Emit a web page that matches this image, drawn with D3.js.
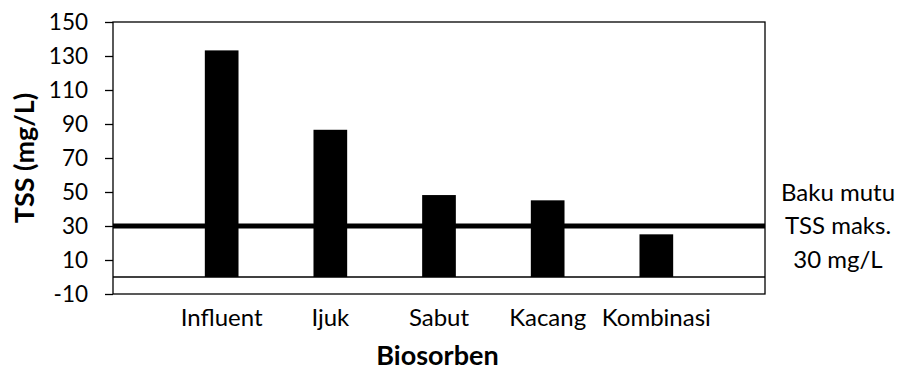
<!DOCTYPE html>
<html>
<head>
<meta charset="utf-8">
<script src="https://cdn.jsdelivr.net/npm/d3@7"></script>
<style>
  body { margin: 0; background: #fff; }
  text { font-family: Lato, "Open Sans", sans-serif; fill: #000; }
  .tick text { font-size: 22.5px; }
  .cat-label { font-size: 24px; }
  .axis-title { font-size: 27px; font-weight: bold; }
  .note { font-size: 24px; }
</style>
</head>
<body>
<svg width="899" height="368"></svg>
<script>
// data
const categories = ['Influent', 'Ijuk', 'Sabut', 'Kacang', 'Kombinasi'];
const tssValues = [133.3, 86.6, 48.2, 45.1, 25.1];
const yTicks = [-10, 10, 30, 50, 70, 90, 110, 130, 150];
const bakuMutu = 30;
const noteLines = ['Baku mutu', 'TSS maks.', '30 mg/L'];

const svg = d3.select('svg');
const width = +svg.attr('width');
const height = +svg.attr('height');
const margin = {top: 22, right: 134, bottom: 74, left: 113};
const innerWidth = width - margin.left - margin.right;
const innerHeight = height - margin.top - margin.bottom;

const x = d3.scalePoint()
    .domain(categories)
    .range([0, innerWidth])
    .padding(1);

const y = d3.scaleLinear()
    .domain([-10, 150])
    .range([innerHeight, 0]);

const barWidth = x.step() * 0.31;

const g = svg.append('g')
    .attr('transform', `translate(${margin.left},${margin.top})`);

// bars
g.selectAll('rect.bar').data(tssValues)
  .enter().append('rect')
    .attr('class', 'bar')
    .attr('x', (d, i) => x(categories[i]) - barWidth / 2)
    .attr('y', d => y(d))
    .attr('width', barWidth)
    .attr('height', d => y(0) - y(d))
    .attr('fill', '#000');

// zero line
g.append('line')
    .attr('x1', 0).attr('x2', innerWidth)
    .attr('y1', y(0)).attr('y2', y(0))
    .attr('stroke', '#000')
    .attr('stroke-width', 1.5);

// baku mutu line
g.append('line')
    .attr('x1', 0).attr('x2', innerWidth)
    .attr('y1', y(bakuMutu)).attr('y2', y(bakuMutu))
    .attr('stroke', '#000')
    .attr('stroke-width', 5);

// frame
g.append('rect')
    .attr('x', 0).attr('y', 0)
    .attr('width', innerWidth).attr('height', innerHeight)
    .attr('fill', 'none')
    .attr('stroke', '#000')
    .attr('stroke-width', 1.3);

// y axis (plain hyphen for negatives, like the original)
const yAxis = d3.axisLeft(y)
    .tickValues(yTicks)
    .tickFormat(d => String(d))
    .tickSize(8)
    .tickPadding(17);

const yAxisG = g.append('g').call(yAxis);
yAxisG.select('.domain').remove();
yAxisG.selectAll('.tick line').attr('stroke', '#000').attr('stroke-width', 1.3);
yAxisG.selectAll('.tick text').attr('font-size', null).attr('font-family', null);
yAxisG.attr('font-size', null).attr('font-family', null);

// category labels
g.selectAll('text.cat-label').data(categories)
  .enter().append('text')
    .attr('class', 'cat-label')
    .attr('x', d => x(d))
    .attr('y', innerHeight + 32)
    .attr('text-anchor', 'middle')
    .text(d => d);

// axis titles
g.append('text')
    .attr('class', 'axis-title')
    .attr('x', (377 + 498) / 2 - margin.left)
    .attr('y', innerHeight + 71)
    .attr('text-anchor', 'middle')
    .text('Biosorben');

g.append('text')
    .attr('class', 'axis-title')
    .attr('transform', 'rotate(-90)')
    .attr('x', -(158 - margin.top))
    .attr('y', -(margin.left - 34))
    .attr('text-anchor', 'middle')
    .text('TSS (mg/L)');

// note on the right
g.selectAll('text.note').data(noteLines)
  .enter().append('text')
    .attr('class', 'note')
    .attr('x', innerWidth + 73)
    .attr('y', (d, i) => y(bakuMutu) + 8 + (i - 1) * 33.5)
    .attr('text-anchor', 'middle')
    .text(d => d);
</script>
</body>
</html>
